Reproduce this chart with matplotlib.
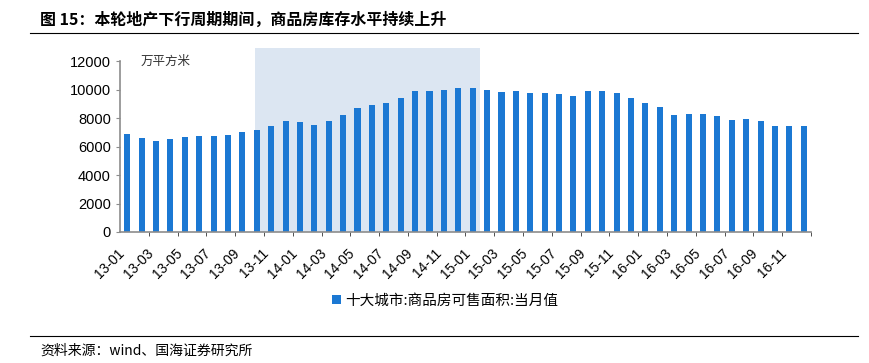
import matplotlib
matplotlib.use("Agg")
import matplotlib.pyplot as plt
from matplotlib.lines import Line2D

plt.rcParams['font.family'] = ['Noto Sans CJK SC', 'DejaVu Sans']

# monthly labels 13-01 .. 16-12
months = ['{:02d}-{:02d}'.format(y, m) for y in range(13, 17) for m in range(1, 13)]

# 十大城市 商品房可售面积 (万平方米)
stock = [6860, 6600, 6430, 6550, 6650, 6720, 6760, 6810, 7045, 7140,
         7420, 7820, 7700, 7540, 7820, 8200, 8690, 8900, 9065, 9390,
         9890, 9890, 10005, 10100, 10100, 9980, 9820, 9935, 9795, 9795,
         9675, 9560, 9935, 9935, 9795, 9395, 9065, 8785, 8245, 8290,
         8290, 8125, 7870, 7915, 7820, 7420, 7470, 7420]

yticks = [0, 2000, 4000, 6000, 8000, 10000, 12000]
shade_span = (8.85, 24.48)   # downturn period, in bar-index units

BAR = '#1b78d3'

fig = plt.figure(figsize=(8.7, 3.63), dpi=100)
ax = fig.add_axes([0.1379, 0.3609, 0.7943, 0.5055])

x = list(range(len(stock)))
ax.axvspan(shade_span[0], shade_span[1], color='#dce6f2', zorder=0, lw=0)
ax.bar(x, stock, width=0.42, color=BAR, zorder=2, label='十大城市:商品房可售面积:当月值')

ax.set_xlim(-0.5, len(stock) - 0.5)
ax.set_ylim(0, 12900)
ax.set_yticks(yticks)
ax.set_yticklabels([str(v) for v in yticks], family='Liberation Sans', fontsize=10.5)
ax.spines['left'].set_bounds(0, 12000)
for s in ['top', 'right']:
    ax.spines[s].set_visible(False)
for s in ['left', 'bottom']:
    ax.spines[s].set_color('#8c8c8c')
    ax.spines[s].set_linewidth(1.2)

ax.set_xticks(x[::2])
ax.set_xticklabels(months[::2], rotation=45, ha='right', family='Liberation Sans', fontsize=10)
ax.set_xticks([i + 1.5 for i in range(0, len(stock), 2)], minor=True)
ax.tick_params(axis='x', which='major', length=0, pad=10)
ax.tick_params(axis='x', which='minor', length=3, color='#333333')
ax.tick_params(axis='y', length=3, color='#8c8c8c')

ax.text(0.03, 0.93, '万平方米', transform=ax.transAxes, fontsize=9, color='#333333', va='center')

ax.legend(loc='center', bbox_to_anchor=(445 / 870, 1 - 301 / 363), bbox_transform=fig.transFigure,
          frameon=False, fontsize=10.5, handlelength=0.6, handleheight=0.6, handletextpad=0.3)

# title, rules and source
fig.text(40 / 870, 1 - 20 / 363, '图 15：本轮地产下行周期期间，商品房库存水平持续上升',
         fontsize=11.5, fontweight='bold', va='center', ha='left')
fig.add_artist(Line2D([30 / 870, 858 / 870], [1 - 33 / 363] * 2, color='black', lw=0.8))
fig.add_artist(Line2D([30 / 870, 858 / 870], [1 - 336 / 363] * 2, color='black', lw=0.8))
fig.text(40 / 870, 1 - 351 / 363, '资料来源：wind、国海证券研究所', fontsize=10, va='center', ha='left')

fig.savefig('out.png', dpi=100)
